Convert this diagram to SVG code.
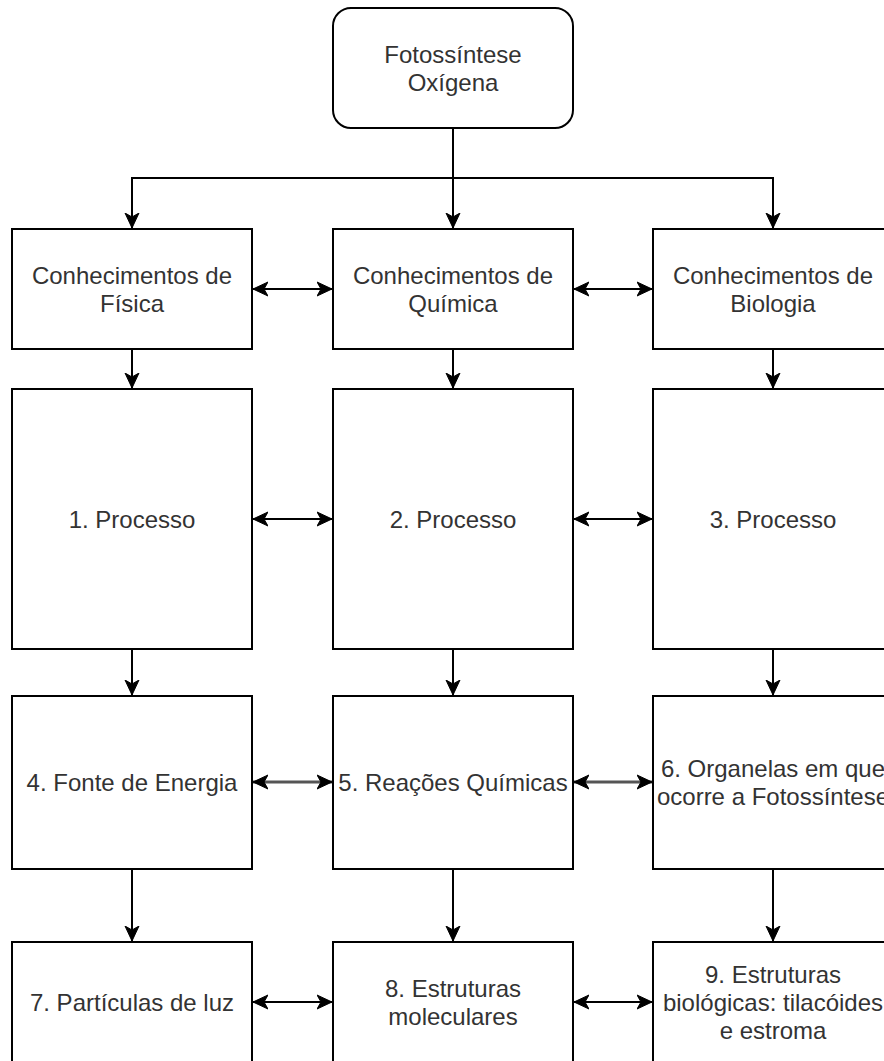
<svg xmlns="http://www.w3.org/2000/svg" width="884" height="1061" viewBox="0 0 884 1061">
<style>
.box{fill:#fff;stroke:#000;stroke-width:2}
.lbl{font-family:"Liberation Sans",Arial,sans-serif;font-size:24px;fill:#333;text-anchor:middle}
.edge{fill:none;stroke:#000;stroke-width:2}
</style>
<defs>
<marker id="arr" markerUnits="userSpaceOnUse" markerWidth="16" markerHeight="16" viewBox="-15 -8 16 16" refX="0" refY="0" orient="auto-start-reverse">
<path d="M0,0 L-15,-7 L-11,0 L-15,7 Z" fill="#000" stroke="#000" stroke-width="1"/>
</marker>
</defs>
<rect width="884" height="1061" fill="#fff"/>
<g id="connectors">
<path class="edge" d="M453,128 V228" marker-end="url(#arr)"/>
<path class="edge" d="M453,178 H132 V228" marker-end="url(#arr)"/>
<path class="edge" d="M453,178 H773 V228" marker-end="url(#arr)"/>
<path class="edge" d="M132,349 V388" marker-end="url(#arr)"/>
<path class="edge" d="M453,349 V388" marker-end="url(#arr)"/>
<path class="edge" d="M773,349 V388" marker-end="url(#arr)"/>
<path class="edge" d="M132,649 V695" marker-end="url(#arr)"/>
<path class="edge" d="M453,649 V695" marker-end="url(#arr)"/>
<path class="edge" d="M773,649 V695" marker-end="url(#arr)"/>
<path class="edge" d="M132,869 V941" marker-end="url(#arr)"/>
<path class="edge" d="M453,869 V941" marker-end="url(#arr)"/>
<path class="edge" d="M773,869 V941" marker-end="url(#arr)"/>
<path class="edge" d="M253,289 H332" marker-start="url(#arr)" marker-end="url(#arr)"/>
<path class="edge" d="M574,289 H652" marker-start="url(#arr)" marker-end="url(#arr)"/>
<path class="edge" d="M253,519 H332" marker-start="url(#arr)" marker-end="url(#arr)"/>
<path class="edge" d="M574,519 H652" marker-start="url(#arr)" marker-end="url(#arr)"/>
<path class="edge" d="M253,782 H332" marker-start="url(#arr)" marker-end="url(#arr)" style="stroke-width:3;stroke:#555"/>
<path class="edge" d="M574,782 H652" marker-start="url(#arr)" marker-end="url(#arr)" style="stroke-width:3;stroke:#555"/>
<path class="edge" d="M253,1002 H332" marker-start="url(#arr)" marker-end="url(#arr)"/>
<path class="edge" d="M574,1002 H652" marker-start="url(#arr)" marker-end="url(#arr)"/>
</g>
<g id="n0"><rect class="box" x="333" y="8" width="240" height="120" rx="18"/><text class="lbl" x="453" y="63">Fotossíntese</text><text class="lbl" x="453" y="91">Oxígena</text></g>
<g id="n1"><rect class="box" x="12" y="229" width="240" height="120"/><text class="lbl" x="132" y="284">Conhecimentos de</text><text class="lbl" x="132" y="312">Física</text></g>
<g id="n2"><rect class="box" x="333" y="229" width="240" height="120"/><text class="lbl" x="453" y="284">Conhecimentos de</text><text class="lbl" x="453" y="312">Química</text></g>
<g id="n3"><rect class="box" x="653" y="229" width="240" height="120"/><text class="lbl" x="773" y="284">Conhecimentos de</text><text class="lbl" x="773" y="312">Biologia</text></g>
<g id="n4"><rect class="box" x="12" y="389" width="240" height="260"/><text class="lbl" x="132" y="528">1. Processo</text></g>
<g id="n5"><rect class="box" x="333" y="389" width="240" height="260"/><text class="lbl" x="453" y="528">2. Processo</text></g>
<g id="n6"><rect class="box" x="653" y="389" width="240" height="260"/><text class="lbl" x="773" y="528">3. Processo</text></g>
<g id="n7"><rect class="box" x="12" y="696" width="240" height="173"/><text class="lbl" x="132" y="791">4. Fonte de Energia</text></g>
<g id="n8"><rect class="box" x="333" y="696" width="240" height="173"/><text class="lbl" x="453" y="791">5. Reações Químicas</text></g>
<g id="n9"><rect class="box" x="653" y="696" width="240" height="173"/><text class="lbl" x="773" y="777">6. Organelas em que</text><text class="lbl" x="773" y="805">ocorre a Fotossíntese</text></g>
<g id="n10"><rect class="box" x="12" y="942" width="240" height="121"/><text class="lbl" x="132" y="1011">7. Partículas de luz</text></g>
<g id="n11"><rect class="box" x="333" y="942" width="240" height="121"/><text class="lbl" x="453" y="997">8. Estruturas</text><text class="lbl" x="453" y="1025">moleculares</text></g>
<g id="n12"><rect class="box" x="653" y="942" width="240" height="121"/><text class="lbl" x="773" y="983">9. Estruturas</text><text class="lbl" x="773" y="1011">biológicas: tilacóides</text><text class="lbl" x="773" y="1039">e estroma</text></g>
</svg>
